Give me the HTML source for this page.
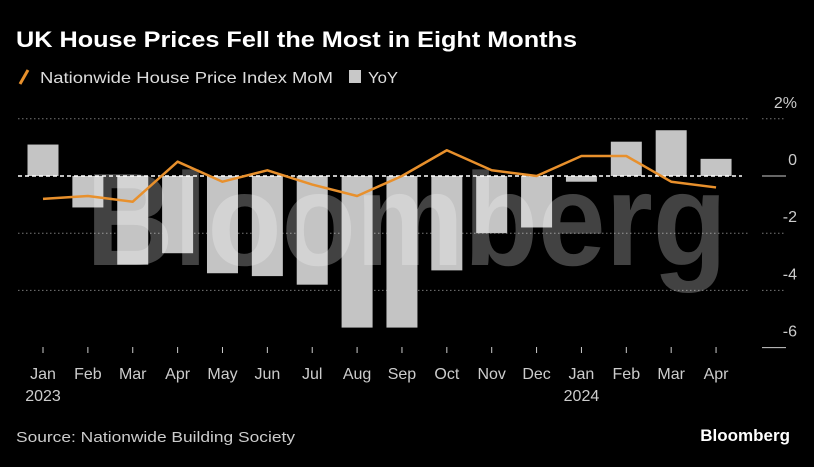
<!DOCTYPE html>
<html><head><meta charset="utf-8"><style>
html,body{margin:0;padding:0;background:#000;}
body{width:814px;height:462px;overflow:hidden;font-family:"Liberation Sans",sans-serif;}
</style></head><body>
<svg width="814" height="462" viewBox="0 0 814 462" xmlns="http://www.w3.org/2000/svg">
<rect width="814" height="462" fill="#000"/>
<text x="16" y="47" fill="#fff" font-size="22" font-weight="bold" textLength="561" lengthAdjust="spacingAndGlyphs">UK House Prices Fell the Most in Eight Months</text>
<g>
<line x1="20" y1="84" x2="28" y2="70" stroke="#e8902c" stroke-width="3"/>
<text x="40" y="83" fill="#ddd" font-size="16" textLength="293" lengthAdjust="spacingAndGlyphs">Nationwide House Price Index MoM</text>
<rect x="349" y="70" width="12" height="13" fill="#c8c8c8"/>
<text x="368" y="83" fill="#ddd" font-size="16" textLength="30" lengthAdjust="spacingAndGlyphs">YoY</text>
</g>
<g id="grid"></g>
<g id="bars"></g>
<text x="86" y="265" fill="rgba(255,255,255,0.26)" font-size="132" font-weight="bold" textLength="641" lengthAdjust="spacingAndGlyphs">Bloomberg</text>
<g id="line"></g>
<g id="xaxis"></g>
<text x="16" y="442" fill="#ccc" font-size="15" textLength="279" lengthAdjust="spacingAndGlyphs">Source: Nationwide Building Society</text>
<text x="790" y="441" fill="#fff" font-size="17" font-weight="bold" text-anchor="end">Bloomberg</text>
</svg>
<script>
const months=["Jan","Feb","Mar","Apr","May","Jun","Jul","Aug","Sep","Oct","Nov","Dec","Jan","Feb","Mar","Apr"];
const years=["2023","","","","","","","","","","","","2024","","",""];
const yoy=[1.1,-1.1,-3.1,-2.7,-3.4,-3.5,-3.8,-5.3,-5.3,-3.3,-2.0,-1.8,-0.2,1.2,1.6,0.6];
const mom=[-0.8,-0.7,-0.9,0.5,-0.2,0.2,-0.3,-0.7,0.0,0.9,0.2,0.0,0.7,0.7,-0.2,-0.4];
const yTicks=[2,0,-2,-4,-6];
const yTickLabels=["2%","0","-2","-4","-6"];
const NS="http://www.w3.org/2000/svg";
function y(v){return 176-v*28.6;}
function x(i){return 43+i*44.87;}
function mk(tag,attrs,parent){const e=document.createElementNS(NS,tag);for(const k in attrs)e.setAttribute(k,attrs[k]);parent.appendChild(e);return e;}
const grid=document.getElementById('grid');
yTicks.forEach((t,i)=>{
  if(t!==-6&&t!==0){const l=mk('line',{x1:18,x2:750,y1:y(t),y2:y(t),stroke:'#777','stroke-width':1,'stroke-dasharray':'1.5,2.5'},grid);
  
  }
  const s=mk('line',{x1:762,x2:786,y1:y(t),y2:y(t),stroke:t===-6||t===0?'#ccc':'#777','stroke-width':1,'stroke-dasharray':t===-6||t===0?'':'1.5,2.5'},grid);
  
  
  const tx=mk('text',{x:797,y:y(t)-11,fill:'#ccc','font-size':16,'text-anchor':'end'},grid);
  tx.textContent=yTickLabels[i];
  
  
});
const bars=document.getElementById('bars');
yoy.forEach((v,i)=>{
  const r=mk('rect',{x:x(i)-15.5,width:31,y:Math.min(y(v),y(0)),height:Math.abs(y(v)-y(0)),fill:'#c4c4c4'},bars);
  
  
});
const z=mk('line',{x1:18,x2:742,y1:y(0),y2:y(0),stroke:'#fff','stroke-width':1.5,'stroke-dasharray':'4,3'},bars);


const lg=document.getElementById('line');
const p=mk('polyline',{points:mom.map((v,i)=>x(i)+','+y(v)).join(' '),fill:'none',stroke:'#e8902c','stroke-width':2.5,'stroke-linejoin':'round'},lg);


const xa=document.getElementById('xaxis');
months.forEach((m,i)=>{
  const t=mk('line',{x1:x(i),x2:x(i),y1:347,y2:353,stroke:'#ccc','stroke-width':1},xa);
  
  
  const tx=mk('text',{x:x(i),y:379,fill:'#ccc','font-size':16,'text-anchor':'middle'},xa);
  tx.textContent=m;
  
  
  if(years[i]){const yt=mk('text',{x:x(i),y:401,fill:'#ccc','font-size':16,'text-anchor':'middle'},xa);
  yt.textContent=years[i];
  
  }
});
</script>
</body></html>
